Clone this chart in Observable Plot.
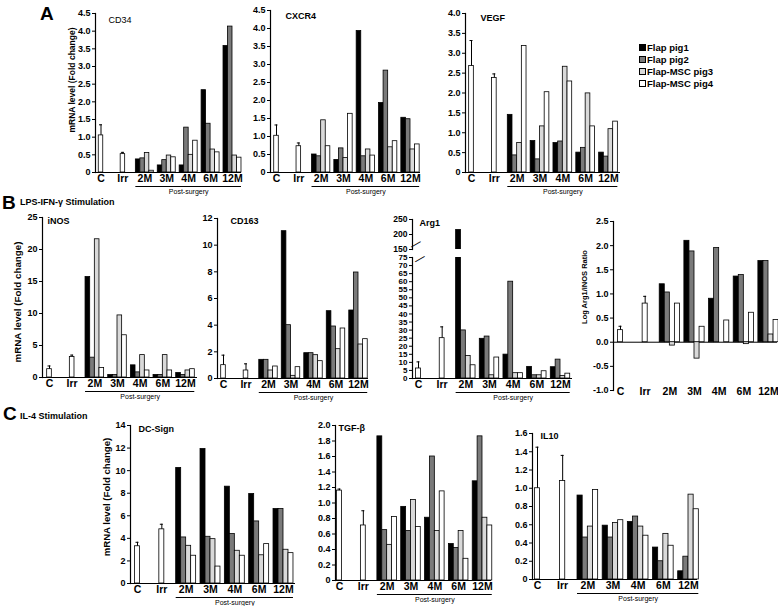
<!DOCTYPE html>
<html><head><meta charset="utf-8">
<script src="https://cdn.jsdelivr.net/npm/d3@7"></script>
<script src="https://cdn.jsdelivr.net/npm/@observablehq/plot@0.6"></script>
<style>
body{margin:0;background:#fff;}
#fig{position:relative;width:778px;height:606px;overflow:hidden;font-family:"Liberation Sans",Arial,sans-serif;color:#000;}
.abs{position:absolute;white-space:nowrap;}
.panel{font-weight:bold;font-size:19px;line-height:1;}
.note{font-weight:bold;font-size:9px;line-height:1;}
.ytitle{font-weight:bold;line-height:1;transform:translate(-50%,-50%) rotate(-90deg);}
.leg{font-weight:bold;font-size:9.5px;line-height:1;display:flex;align-items:center;}
.sw{display:inline-block;width:5px;height:5px;border:1px solid #000;margin-right:1px;}
</style></head><body><div id="fig"></div><script>
// ---------- categories / series ----------
const categories = ["C", "Irr", "2M", "3M", "4M", "6M", "12M"];
const timepoints = ["2M", "3M", "4M", "6M", "12M"];
const seriesNames = ["Flap pig1", "Flap pig2", "Flap-MSC pig3", "Flap-MSC pig4"];
const seriesFills = ["#000000", "#7a7a7a", "#d9d9d9", "#ffffff"];

// ---------- values: controls [C, Irr], error tops, four pigs over 2M..12M ----------
const cd34Ctrl = [1.05, 0.52], cd34Err = [1.35, 0.57];
const cd34Pig1 = [0.37, 0.20, 0.20, 2.33, 3.58];
const cd34Pig2 = [0.40, 0.35, 1.27, 1.38, 4.13];
const cd34Pig3 = [0.55, 0.48, 0.50, 0.65, 0.48];
const cd34Pig4 = [0.05, 0.43, 0.90, 0.57, 0.42];

const cxcr4Ctrl = [1.02, 0.73], cxcr4Err = [1.32, 0.82];
const cxcr4Pig1 = [0.50, 0.35, 3.93, 1.93, 1.52];
const cxcr4Pig2 = [0.45, 0.67, 0.45, 2.83, 1.48];
const cxcr4Pig3 = [1.45, 0.40, 0.64, 0.70, 0.64];
const cxcr4Pig4 = [0.73, 1.63, 0.47, 0.87, 0.78];

const vegfCtrl = [2.68, 2.38], vegfErr = [3.32, 2.48];
const vegfPig1 = [1.45, 0.79, 0.74, 0.50, 0.50];
const vegfPig2 = [0.43, 0.33, 0.78, 0.62, 0.40];
const vegfPig3 = [0.74, 1.16, 2.66, 1.99, 1.09];
const vegfPig4 = [3.18, 2.02, 2.29, 1.16, 1.28];

const inosCtrl = [1.3, 3.2], inosErr = [1.8, 3.5];
const inosPig1 = [15.7, 0.4, 1.9, 0.4, 0.7];
const inosPig2 = [3.1, 0.4, 0.8, 0.4, 0.4];
const inosPig3 = [21.6, 9.7, 3.5, 3.5, 1.1];
const inosPig4 = [1.5, 6.6, 1.1, 1.1, 1.3];

const cd163Ctrl = [1.0, 0.6], cd163Err = [1.75, 1.1];
const cd163Pig1 = [1.4, 11.05, 1.9, 5.05, 5.1];
const cd163Pig2 = [1.4, 4.0, 1.9, 3.9, 7.95];
const cd163Pig3 = [0.6, 0.2, 1.75, 2.2, 2.55];
const cd163Pig4 = [0.9, 0.85, 1.3, 3.75, 2.95];

const arg1Ctrl = [6.2, 25], arg1Err = [10.3, 32];
const arg1Pig1 = [215, 24.6, 14.8, 7.2, 7.0];
const arg1Pig2 = [29.8, 26, 60, 2, 11.7];
const arg1Pig3 = [14, 2, 3.3, 2, 1.6];
const arg1Pig4 = [8.2, 13, 3.3, 4.5, 3];

const ratioCtrl = [0.25, 0.8], ratioErr = [0.33, 0.95];
const ratioPig1 = [1.2, 2.1, 0.9, 1.36, 1.68];
const ratioPig2 = [1.03, 1.88, 1.95, 1.39, 1.68];
const ratioPig3 = [-0.07, -0.34, 0, -0.04, 0.16];
const ratioPig4 = [0.8, 0.32, 0.45, 0.61, 0.46];

const dcCtrl = [3.3, 4.8], dcErr = [3.65, 5.25];
const dcPig1 = [10.24, 11.92, 8.58, 7.93, 6.6];
const dcPig2 = [4.08, 4.14, 4.38, 5.5, 6.6];
const dcPig3 = [3.34, 3.93, 2.9, 2.5, 2.99];
const dcPig4 = [2.46, 1.5, 2.46, 3.49, 2.69];

const tgfCtrl = [1.16, 0.71], tgfErr = [1.18, 0.9];
const tgfPig1 = [1.86, 0.95, 0.81, 0.47, 1.28];
const tgfPig2 = [0.65, 0.64, 1.6, 0.42, 1.86];
const tgfPig3 = [0.46, 1.04, 0.64, 0.64, 0.81];
const tgfPig4 = [0.82, 0.69, 1.15, 0.28, 0.71];

const il10Ctrl = [1.0, 1.08], il10Err = [1.45, 1.36];
const il10Pig1 = [0.92, 0.59, 0.63, 0.35, 0.09];
const il10Pig2 = [0.46, 0.46, 0.69, 0.2, 0.25];
const il10Pig3 = [0.58, 0.62, 0.58, 0.5, 0.93];
const il10Pig4 = [0.98, 0.65, 0.48, 0.37, 0.77];

// ---------- tick values ----------
const ticks45 = [0, 0.5, 1, 1.5, 2, 2.5, 3, 3.5, 4, 4.5];
const ticks40 = [0, 0.5, 1, 1.5, 2, 2.5, 3, 3.5, 4];
const ticksInos = [0, 5, 10, 15, 20, 25];
const ticksCd163 = [0, 2, 4, 6, 8, 10, 12];
const ticksArg1Low = [0, 5, 10, 15, 20, 25, 30, 35, 40, 45, 50, 55, 60, 65, 70, 75];
const ticksArg1High = [150, 200, 250];
const ticksRatio = [-1, -0.5, 0, 0.5, 1, 1.5, 2, 2.5];
const ticksDc = [0, 2, 4, 6, 8, 10, 12, 14];
const ticksTgf = [0, 0.2, 0.4, 0.6, 0.8, 1.0, 1.2, 1.4, 1.6, 1.8, 2.0];
const ticksIl10 = [0, 0.2, 0.4, 0.6, 0.8, 1.0, 1.2, 1.4, 1.6];

const fmtDec = d => d === 0 ? "0" : d.toFixed(1);
const fmtInt = d => String(d);
const fmtRatio = d => d.toFixed(1);

const fig = document.getElementById("fig");
const FONT = "'Liberation Sans', Arial, sans-serif";

function drawChart(cfg) {
  const W = cfg.width, H = cfg.height;
  const marginLeft = cfg.axisX - cfg.left;
  const marginTop = cfg.topY - cfg.top;
  const marginBottom = cfg.top + H - cfg.bottomY;
  const marginRight = cfg.left + W - cfg.endX;
  const pi = 0.18;
  const step = (cfg.lastX - cfg.firstX) / 6;
  const r0 = cfg.firstX - cfg.left - step * (1 - pi) / 2;
  const r1 = r0 + step * (7 - pi);
  const bw = step * (1 - pi), q = bw / 4;
  const clip = !!cfg.clip;
  const ctrlRows = ["C", "Irr"].map((c, i) => ({cat: c, value: cfg.ctrl[i], err: cfg.err[i]}));
  const marks = [];
  if (cfg.baseline !== false) marks.push(Plot.ruleY([0], {stroke: "#000", strokeWidth: 1}));
  cfg.pigs.forEach((vals, j) => {
    const rows = timepoints.map((t, k) => ({cat: t, value: vals[k], series: seriesNames[j]}));
    marks.push(Plot.barY(rows, {x: "cat", y: "value", fill: seriesFills[j], stroke: "#000", strokeWidth: 0.8,
      insetLeft: j * q, insetRight: (3 - j) * q, clip}));
  });
  marks.push(Plot.barY(ctrlRows, {x: "cat", y: "value", fill: "#fff", stroke: "#000", strokeWidth: 0.8,
    insetLeft: 1.5 * q, insetRight: 1.5 * q, clip}));
  marks.push(Plot.ruleX(ctrlRows, {x: "cat", y1: "value", y2: "err", stroke: "#000", strokeWidth: 1, clip}));
  marks.push(Plot.tickY(ctrlRows, {x: "cat", y: "err", stroke: "#000", strokeWidth: 1,
    insetLeft: bw / 2 - 1.5, insetRight: bw / 2 - 1.5, clip}));
  marks.push(Plot.frame({anchor: "left", stroke: "#000", strokeWidth: 1.2}));
  marks.push(Plot.axisY(cfg.yTicks, {tickFormat: cfg.fmt, tickSize: 3, tickPadding: 2, fontSize: cfg.yFont || 9, fontWeight: "bold"}));
  if (!cfg.noX) marks.push(Plot.axisX({tickSize: 0, tickPadding: cfg.xPad ?? 2, fontSize: 10.5, fontWeight: "bold"}));
  if (cfg.post) {
    marks.push(Plot.ruleY([0], {x1: () => "2M", x2: () => "12M", dy: 14, stroke: "#000", strokeWidth: 1}));
    marks.push(Plot.text(["Post-surgery"], {x: () => "4M", y: () => 0, text: d => d, dy: 19, fontSize: 7, fontWeight: "normal"}));
  }
  if (cfg.title) {
    marks.push(Plot.text([cfg.title], {frameAnchor: "top-left", text: d => d, dx: cfg.titleX - cfg.axisX,
      dy: cfg.titleY - cfg.topY, textAnchor: "start", lineAnchor: "top", fontSize: 9, fontWeight: cfg.titleWeight || "bold"}));
  }
  if (cfg.breakAt) {
    marks.push(Plot.text(["\u2014"], {frameAnchor: cfg.breakAt, text: d => d, rotate: -30, fontSize: 11, fontWeight: "normal"}));
  }
  const svg = Plot.plot({
    width: W, height: H, marginLeft, marginTop, marginBottom, marginRight,
    x: {type: "band", domain: categories, range: [r0, r1], paddingInner: pi, paddingOuter: 0, round: false, label: null, axis: null},
    y: {domain: cfg.yDomain, label: null, axis: null},
    style: {fontFamily: FONT, fontWeight: "bold", background: "transparent", overflow: "visible", color: "#000"},
    marks
  });
  svg.style.position = "absolute";
  svg.style.left = cfg.left + "px";
  svg.style.top = cfg.top + "px";
  svg.style.maxWidth = "none";
  fig.appendChild(svg);
}

const charts = [
  {left: 0, top: 0, width: 250, height: 200, axisX: 95, topY: 13, bottomY: 172, endX: 241, firstX: 100.5, lastX: 232,
   ctrl: cd34Ctrl, err: cd34Err, pigs: [cd34Pig1, cd34Pig2, cd34Pig3, cd34Pig4], yDomain: [0, 4.5], yTicks: ticks45, fmt: fmtDec,
   title: "CD34", titleX: 108, titleY: 16, titleWeight: "normal", post: true},
  {left: 250, top: 0, width: 180, height: 200, axisX: 270, topY: 10, bottomY: 172, endX: 420, firstX: 276, lastX: 410,
   ctrl: cxcr4Ctrl, err: cxcr4Err, pigs: [cxcr4Pig1, cxcr4Pig2, cxcr4Pig3, cxcr4Pig4], yDomain: [0, 4.5], yTicks: ticks45, fmt: fmtDec,
   title: "CXCR4", titleX: 285, titleY: 12, post: true},
  {left: 430, top: 0, width: 200, height: 200, axisX: 465, topY: 13, bottomY: 172, endX: 620, firstX: 471, lastX: 608,
   ctrl: vegfCtrl, err: vegfErr, pigs: [vegfPig1, vegfPig2, vegfPig3, vegfPig4], yDomain: [0, 4], yTicks: ticks40, fmt: fmtDec,
   title: "VEGF", titleX: 480, titleY: 14, post: true},
  {left: 0, top: 200, width: 205, height: 210, axisX: 42, topY: 217, bottomY: 377, endX: 197, firstX: 49, lastX: 185,
   ctrl: inosCtrl, err: inosErr, pigs: [inosPig1, inosPig2, inosPig3, inosPig4], yDomain: [0, 25], yTicks: ticksInos, fmt: fmtInt,
   title: "iNOS", titleX: 47, titleY: 217, post: true},
  {left: 200, top: 200, width: 175, height: 210, axisX: 217, topY: 218, bottomY: 378, endX: 368, firstX: 223, lastX: 358,
   ctrl: cd163Ctrl, err: cd163Err, pigs: [cd163Pig1, cd163Pig2, cd163Pig3, cd163Pig4], yDomain: [0, 12], yTicks: ticksCd163, fmt: fmtInt,
   title: "CD163", titleX: 230, titleY: 217, post: true},
  {left: 380, top: 205, width: 200, height: 50, axisX: 412, topY: 219, bottomY: 249, endX: 572, firstX: 418, lastX: 560,
   ctrl: arg1Ctrl, err: arg1Err, pigs: [arg1Pig1, arg1Pig2, arg1Pig3, arg1Pig4], yDomain: [150, 250], yTicks: ticksArg1High, fmt: fmtInt,
   yFont: 8.5, title: "Arg1", titleX: 419, titleY: 219, noX: true, clip: true, baseline: false, breakAt: "bottom-left"},
  {left: 380, top: 250, width: 200, height: 160, axisX: 412, topY: 257, bottomY: 378, endX: 572, firstX: 418, lastX: 560,
   ctrl: arg1Ctrl, err: arg1Err, pigs: [arg1Pig1, arg1Pig2, arg1Pig3, arg1Pig4], yDomain: [0, 75], yTicks: ticksArg1Low, fmt: fmtInt,
   yFont: 8, clip: true, post: true, breakAt: "top-left"},
  {left: 580, top: 200, width: 198, height: 206, axisX: 613, topY: 221, bottomY: 390, endX: 777, firstX: 620, lastX: 768,
   ctrl: ratioCtrl, err: ratioErr, pigs: [ratioPig1, ratioPig2, ratioPig3, ratioPig4], yDomain: [-1, 2.5], yTicks: ticksRatio, fmt: fmtRatio,
   xPad: -3},
  {left: 110, top: 410, width: 200, height: 196, axisX: 130, topY: 425, bottomY: 583, endX: 295, firstX: 137, lastX: 283,
   ctrl: dcCtrl, err: dcErr, pigs: [dcPig1, dcPig2, dcPig3, dcPig4], yDomain: [0, 14], yTicks: ticksDc, fmt: fmtInt,
   title: "DC-Sign", titleX: 138, titleY: 425, post: true},
  {left: 310, top: 410, width: 190, height: 196, axisX: 335, topY: 425, bottomY: 580, endX: 491, firstX: 339, lastX: 482,
   ctrl: tgfCtrl, err: tgfErr, pigs: [tgfPig1, tgfPig2, tgfPig3, tgfPig4], yDomain: [0, 2], yTicks: ticksTgf, fmt: fmtDec,
   title: "TGF-β", titleX: 338, titleY: 424, post: true},
  {left: 505, top: 410, width: 200, height: 196, axisX: 532, topY: 433, bottomY: 579, endX: 697, firstX: 537, lastX: 688,
   ctrl: il10Ctrl, err: il10Err, pigs: [il10Pig1, il10Pig2, il10Pig3, il10Pig4], yDomain: [0, 1.6], yTicks: ticksIl10, fmt: fmtDec,
   title: "IL10", titleX: 540, titleY: 432, post: true}
];
charts.forEach(drawChart);

// ---------- texts ----------
function addText(txt, cls, left, top, extra) {
  const d = document.createElement("div");
  d.className = "abs " + cls;
  d.textContent = txt;
  d.style.left = left + "px";
  d.style.top = top + "px";
  if (extra) Object.assign(d.style, extra);
  fig.appendChild(d);
  return d;
}
addText("A", "panel", 40, 4);
addText("B", "panel", 2, 193);
addText("C", "panel", 3, 404);
addText("LPS-IFN-γ Stimulation", "note", 20, 198);
addText("IL-4 Stimulation", "note", 20, 412);
addText("mRNA level (Fold change)", "ytitle", 72, 80, {fontSize: "8.5px"});
addText("mRNA level (Fold change)", "ytitle", 18, 302, {fontSize: "9.8px"});
addText("mRNA level (Fold change)", "ytitle", 107, 497, {fontSize: "9.6px"});
addText("Log Arg1/iNOS Ratio", "ytitle", 585, 287, {fontSize: "7.5px"});

// ---------- legend ----------
seriesNames.forEach((name, j) => {
  const d = document.createElement("div");
  d.className = "abs leg";
  d.style.left = "639px";
  d.style.top = (43 + j * 12) + "px";
  const sw = document.createElement("span");
  sw.className = "sw";
  sw.style.background = seriesFills[j];
  d.appendChild(sw);
  d.appendChild(document.createTextNode(name));
  fig.appendChild(d);
});
</script></body></html>
